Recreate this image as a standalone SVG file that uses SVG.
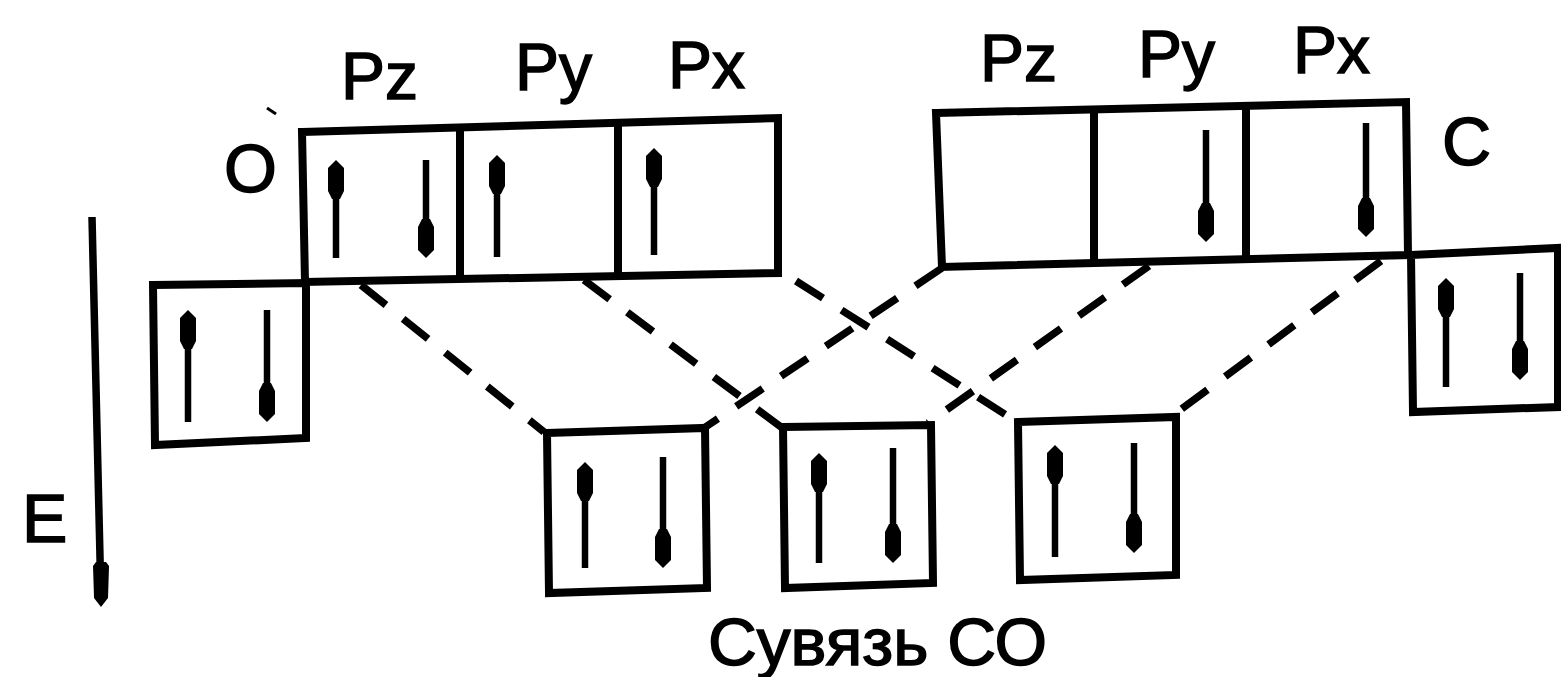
<svg xmlns="http://www.w3.org/2000/svg" xmlns:xlink="http://www.w3.org/1999/xlink" width="1561" height="677" viewBox="0 0 1561 677">
<style>
.box{fill:none;stroke:#000;stroke-width:8;stroke-linejoin:miter}
.div{stroke:#000;stroke-width:8}
.e{stroke:#000;stroke-width:6.5}
.dash{stroke:#000;stroke-width:7.5;stroke-dasharray:32 22;fill:none}
.lbl{font-family:"Liberation Sans",Arial,sans-serif;font-size:66px;fill:#000;stroke:#000;stroke-width:1.5}
.big{font-family:"Liberation Sans",Arial,sans-serif;font-size:68px;fill:#000;stroke:#000;stroke-width:1.5}
</style>
<defs>
<path id="hu" d="M0,0 L8,8 L8,31 L4,39 L-4,39 L-8,31 L-8,8 Z" fill="#000"/>
<path id="hd" d="M0,0 L8,-8 L8,-31 L4,-39 L-4,-39 L-8,-31 L-8,-8 Z" fill="#000"/>
</defs>
<rect width="1561" height="677" fill="#fff"/>

<g id="connectors">
<line class="dash" x1="361" y1="285" x2="544" y2="432"/>
<line class="dash" x1="584" y1="280" x2="781" y2="427"/>
<line class="dash" x1="796" y1="281" x2="1017" y2="422"/>
<line class="dash" x1="942" y1="268" x2="704" y2="428"/>
<line class="dash" x1="1149" y1="266" x2="928" y2="423"/>
<line class="dash" x1="1381" y1="261" x2="1172" y2="416"/>
</g>

<g id="O-p">
<polygon class="box" points="302,132 778,118 778,273 305,282"/>
<line class="div" x1="460" y1="127" x2="460" y2="279"/>
<line class="div" x1="618" y1="123" x2="618" y2="276"/>
<line class="e" x1="336" y1="165" x2="336" y2="258"/><use xlink:href="#hu" x="336" y="160"/>
<line class="e" x1="426" y1="160" x2="426" y2="252"/><use xlink:href="#hd" x="426" y="258"/>
<line class="e" x1="497" y1="160" x2="497" y2="257"/><use xlink:href="#hu" x="497" y="155"/>
<line class="e" x1="654" y1="153" x2="654" y2="255"/><use xlink:href="#hu" x="654" y="148"/>
</g>

<g id="O-s">
<polygon class="box" points="153,285 306,283 306,438 155,445"/>
<line class="e" x1="188" y1="315" x2="188" y2="422"/><use xlink:href="#hu" x="188" y="310"/>
<line class="e" x1="267" y1="310" x2="267" y2="416"/><use xlink:href="#hd" x="267" y="422"/>
</g>

<g id="C-p">
<polygon class="box" points="936,113 1406,102 1408,255 942,267"/>
<line class="div" x1="1094" y1="110" x2="1094" y2="262"/>
<line class="div" x1="1246" y1="107" x2="1246" y2="258"/>
<line class="e" x1="1206" y1="130" x2="1206" y2="236"/><use xlink:href="#hd" x="1206" y="242"/>
<line class="e" x1="1366" y1="123" x2="1366" y2="231"/><use xlink:href="#hd" x="1366" y="237"/>
</g>

<g id="C-s">
<polygon class="box" points="1411,255 1558,248 1558,407 1413,412"/>
<line class="e" x1="1446" y1="283" x2="1446" y2="387"/><use xlink:href="#hu" x="1446" y="278"/>
<line class="e" x1="1520" y1="273" x2="1520" y2="374"/><use xlink:href="#hd" x="1520" y="380"/>
</g>

<g id="MO1">
<polygon class="box" points="547,433 705,428 707,588 549,593"/>
<line class="e" x1="585" y1="467" x2="585" y2="568"/><use xlink:href="#hu" x="585" y="462"/>
<line class="e" x1="663" y1="457" x2="663" y2="562"/><use xlink:href="#hd" x="663" y="568"/>
</g>

<g id="MO2">
<polygon class="box" points="783,427 931,425 933,583 785,588"/>
<line class="e" x1="819" y1="458" x2="819" y2="563"/><use xlink:href="#hu" x="819" y="453"/>
<line class="e" x1="893" y1="448" x2="893" y2="557"/><use xlink:href="#hd" x="893" y="563"/>
</g>

<g id="MO3">
<polygon class="box" points="1018,422 1176,417 1176,575 1020,580"/>
<line class="e" x1="1055" y1="450" x2="1055" y2="557"/><use xlink:href="#hu" x="1055" y="445"/>
<line class="e" x1="1134" y1="443" x2="1134" y2="547"/><use xlink:href="#hd" x="1134" y="553"/>
</g>

<g id="axis">
<line x1="92" y1="217" x2="101" y2="600" stroke="#000" stroke-width="7.5"/>
<path d="M101,607 L94,598 L93,566 L96,562 L106,562 L109,566 L108,598 Z" fill="#000"/>
<text class="big" x="22" y="542">E</text>
</g>

<g id="labels">
<path d="M267,108 L276,114" stroke="#000" stroke-width="3"/>
<text class="big" x="224" y="192">O</text>
<text class="lbl" x="341" y="99">Pz</text>
<text class="lbl" x="515" y="90">Py</text>
<text class="lbl" x="668" y="88">Px</text>
<text class="lbl" x="980" y="81">Pz</text>
<text class="lbl" x="1138" y="77">Py</text>
<text class="lbl" x="1293" y="73">Px</text>
<text class="big" x="1442" y="165">C</text>
<text class="lbl" x="708" y="665" font-size="63" textLength="339" lengthAdjust="spacingAndGlyphs">Сувязь СО</text>
</g>
</svg>
